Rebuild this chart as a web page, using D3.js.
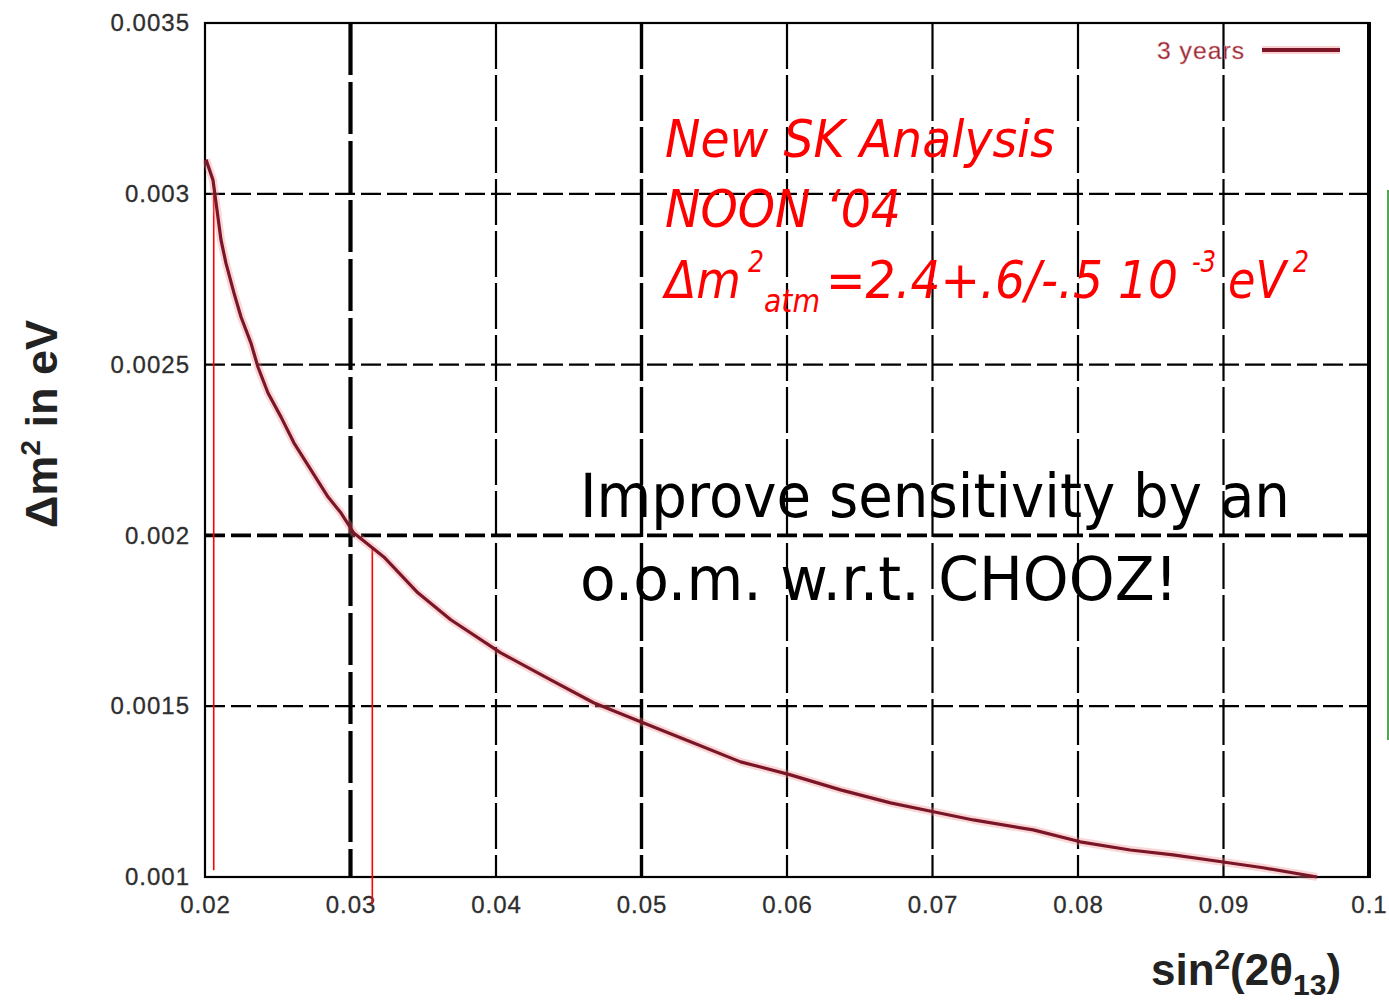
<!DOCTYPE html>
<html>
<head>
<meta charset="utf-8">
<script src="https://cdn.jsdelivr.net/npm/d3@7"></script>
<style>
  body { margin: 0; background: #fff; }
  svg { display: block; }
</style>
</head>
<body>
<svg id="chart" width="1389" height="1000"></svg>
<script>
// Axis ticks and their printed labels
const xTicks = [0.02, 0.03, 0.04, 0.05, 0.06, 0.07, 0.08, 0.09, 0.1];
const xTickLabels = ["0.02", "0.03", "0.04", "0.05", "0.06", "0.07", "0.08", "0.09", "0.1"];
const yTicks = [0.001, 0.0015, 0.002, 0.0025, 0.003, 0.0035];
const yTickLabels = ["0.001", "0.0015", "0.002", "0.0025", "0.003", "0.0035"];

// Sensitivity curve, 3 years: sin^2(2theta13) vs delta m^2 (eV^2)
const sin2 = [0.02007, 0.02055, 0.0211, 0.02144, 0.02199, 0.02247, 0.02316, 0.02364, 0.02433,
  0.02522, 0.02611, 0.02728, 0.02845, 0.02934, 0.03023, 0.03229, 0.03463, 0.03689, 0.04033,
  0.04376, 0.04671, 0.05015, 0.05337, 0.05681, 0.06024, 0.06368, 0.06711, 0.07006, 0.0728,
  0.07692, 0.08015, 0.08359, 0.08654, 0.08998, 0.09272, 0.09643];
const dm2 = [0.00310, 0.00304, 0.002865, 0.002797, 0.00271, 0.00264, 0.002563, 0.002493, 0.002417,
  0.002347, 0.002271, 0.002192, 0.002113, 0.002066, 0.002007, 0.001937, 0.001832, 0.001753, 0.001656,
  0.001577, 0.00151, 0.001451, 0.001396, 0.001337, 0.001299, 0.001255, 0.001217, 0.001191, 0.001167,
  0.001138, 0.001103, 0.001079, 0.001065, 0.001044, 0.001027, 0.001];

// Red marker lines bracketing the sensitivity range
const markerX = [0.0206, 0.0315];
const markerTop = [0.0030, 0.00196];
const markerBottom = [0.00102, 0.00092];

const legendLabel = "3 years";

const svg = d3.select("#chart");
const x = d3.scaleLinear().domain([0.02, 0.1]).range([205, 1369]);
const y = d3.scaleLinear().domain([0.001, 0.0035]).range([877, 23]);

// Grid
const grid = svg.append("g");
grid.selectAll("line.v").data(xTicks.slice(1, -1)).join("line")
  .attr("x1", d => x(d)).attr("x2", d => x(d))
  .attr("y1", y(0.0035)).attr("y2", y(0.001))
  .attr("stroke", "#000")
  .attr("stroke-width", d => Math.abs(d - 0.03) < 1e-9 ? 4.2 : Math.abs(d - 0.05) < 1e-9 ? 3.4 : 2.2)
  .attr("stroke-dasharray", d => Math.abs(d - 0.03) < 1e-9 ? "52,7" : "46,6");
grid.selectAll("line.h").data(yTicks.slice(1, -1)).join("line")
  .attr("x1", x(0.02)).attr("x2", x(0.1))
  .attr("y1", d => y(d)).attr("y2", d => y(d))
  .attr("stroke", "#000")
  .attr("stroke-width", d => Math.abs(d - 0.002) < 1e-9 ? 3.6 : 2.3)
  .attr("stroke-dasharray", "20,6");

// Frame
svg.append("rect")
  .attr("x", x(0.02)).attr("y", y(0.0035))
  .attr("width", x(0.1) - x(0.02)).attr("height", y(0.001) - y(0.0035))
  .attr("fill", "none").attr("stroke", "#000").attr("stroke-width", 2.2);
svg.append("line")
  .attr("x1", x(0.1)).attr("x2", x(0.1)).attr("y1", y(0.0035) - 1).attr("y2", y(0.001) + 1)
  .attr("stroke", "#000").attr("stroke-width", 4);

// Axes (labels only)
const tickFont = "'Liberation Sans', Arial, sans-serif";
const xAxis = svg.append("g").attr("transform", `translate(0,${y(0.001)})`)
  .call(d3.axisBottom(x).tickValues(xTicks).tickSize(0).tickPadding(19)
    .tickFormat((d, i) => xTickLabels[i]));
const yAxis = svg.append("g").attr("transform", `translate(${x(0.02)},0)`)
  .call(d3.axisLeft(y).tickValues(yTicks).tickSize(0).tickPadding(15)
    .tickFormat((d, i) => yTickLabels[i]));
[xAxis, yAxis].forEach(a => {
  a.select(".domain").remove();
  a.selectAll("text")
    .attr("font-family", tickFont).attr("font-size", 24)
    .attr("letter-spacing", 1).attr("fill", "#2e2e2e")
    .attr("stroke", "#2e2e2e").attr("stroke-width", 0.3);
});

// Marker lines
svg.append("g").selectAll("line").data(markerX).join("line")
  .attr("x1", d => x(d)).attr("x2", d => x(d))
  .attr("y1", (d, i) => y(markerTop[i])).attr("y2", (d, i) => y(markerBottom[i]))
  .attr("stroke", "#ff0000").attr("stroke-width", 1.6);

// Sensitivity curve with soft halo
const pts = sin2.map((s, i) => [s, dm2[i]]);
const line = d3.line().x(d => x(d[0])).y(d => y(d[1]));
svg.append("path").datum(pts).attr("d", line)
  .attr("fill", "none").attr("stroke", "#f28a8a").attr("stroke-opacity", 0.35)
  .attr("stroke-width", 8).attr("stroke-linejoin", "round");
svg.append("path").datum(pts).attr("d", line)
  .attr("fill", "none").attr("stroke", "#7a1628").attr("stroke-width", 3.2)
  .attr("stroke-linejoin", "round");

// Legend
svg.append("text").attr("x", 1157).attr("y", 59)
  .attr("font-family", tickFont).attr("font-size", 24).attr("fill", "#8a2434")
  .attr("stroke", "#e89a9a").attr("stroke-width", 0.5).attr("letter-spacing", 1)
  .attr("textLength", 88).attr("lengthAdjust", "spacingAndGlyphs")
  .text(legendLabel);
svg.append("line").attr("x1", 1262).attr("x2", 1340).attr("y1", 50).attr("y2", 50)
  .attr("stroke", "#f4a0a0").attr("stroke-opacity", 0.5).attr("stroke-width", 8);
svg.append("line").attr("x1", 1262).attr("x2", 1340).attr("y1", 50).attr("y2", 50)
  .attr("stroke", "#7a1628").attr("stroke-width", 4);

// Axis titles
const boldFont = "'Liberation Sans', Arial, sans-serif";
const xt = svg.append("text").attr("x", 1246).attr("y", 985).attr("text-anchor", "middle")
  .attr("font-family", boldFont).attr("font-weight", "bold").attr("font-size", 44).attr("fill", "#222");
xt.append("tspan").text("sin");
xt.append("tspan").attr("font-size", 28).attr("dy", -16).text("2");
xt.append("tspan").attr("dy", 16).text("(2θ");
xt.append("tspan").attr("font-size", 30).attr("dy", 10).text("13");
xt.append("tspan").attr("dy", -10).text(")");

const yt = svg.append("text").attr("transform", "translate(57,424) rotate(-90)")
  .attr("text-anchor", "middle")
  .attr("font-family", boldFont).attr("font-weight", "bold").attr("font-size", 45).attr("fill", "#222");
yt.append("tspan").text("Δm");
yt.append("tspan").attr("font-size", 28).attr("dy", -17).text("2");
yt.append("tspan").attr("dy", 17).text(" in eV");

// Annotations
const annFont = "'DejaVu Sans', Verdana, sans-serif";
const red = svg.append("g").attr("font-family", annFont).attr("font-style", "italic")
  .attr("fill", "#ff0000").attr("font-size", 52);
red.append("text").attr("x", 665).attr("y", 157)
  .attr("textLength", 390).attr("lengthAdjust", "spacingAndGlyphs").text("New SK Analysis");
red.append("text").attr("x", 665).attr("y", 227)
  .attr("textLength", 236).attr("lengthAdjust", "spacingAndGlyphs").text("NOON ‘04");

// Third line: base runs and the raised / lowered pieces as separate texts
const l3 = red.append("g");
const runs = [
  { t: "Δm", x: 665, y: 298, fs: 52, w: 76 },
  { t: "2", x: 748, y: 272, fs: 30, w: 16 },
  { t: "atm", x: 764, y: 312, fs: 32, w: 56 },
  { t: "=2.4+.6/-.5 10", x: 826, y: 298, fs: 52, w: 352 },
  { t: "-3", x: 1192, y: 272, fs: 30, w: 24 },
  { t: "eV", x: 1228, y: 298, fs: 52, w: 58 },
  { t: "2", x: 1293, y: 272, fs: 30, w: 16 }
];
l3.selectAll("text").data(runs).join("text")
  .attr("x", d => d.x).attr("y", d => d.y).attr("font-size", d => d.fs)
  .attr("textLength", d => d.w).attr("lengthAdjust", "spacingAndGlyphs")
  .text(d => d.t);

const blk = svg.append("g").attr("font-family", annFont).attr("fill", "#000").attr("font-size", 60);
blk.append("text").attr("x", 580).attr("y", 517)
  .attr("textLength", 710).attr("lengthAdjust", "spacingAndGlyphs").text("Improve sensitivity by an");
blk.append("text").attr("x", 580).attr("y", 600)
  .attr("textLength", 598).attr("lengthAdjust", "spacingAndGlyphs").text("o.o.m. w.r.t. CHOOZ!");

// Green edge line
svg.append("line").attr("x1", 1388).attr("x2", 1388).attr("y1", 190).attr("y2", 740)
  .attr("stroke", "#1a8a1a").attr("stroke-width", 1.5);
</script>
</body>
</html>
